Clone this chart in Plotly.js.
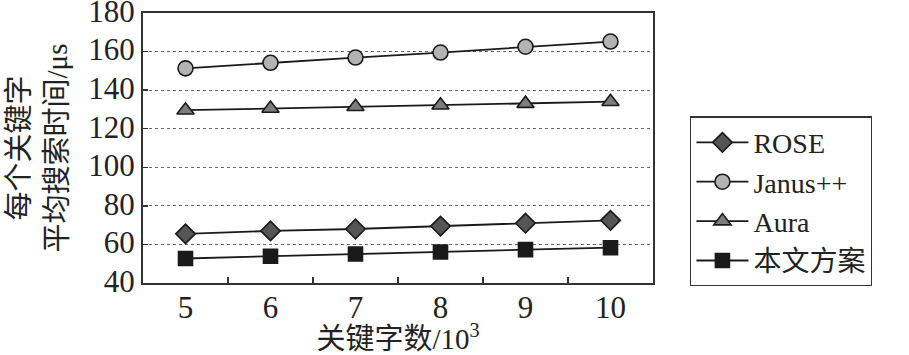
<!DOCTYPE html>
<html><head><meta charset="utf-8">
<script src="https://cdn.plot.ly/plotly-3.0.1.min.js"></script>
<style>html,body{margin:0;padding:0;background:#fff}#c{width:909px;height:355px}</style>
</head><body><div id="c"></div>
<script>
const categories = ['5','6','7','8','9','10'];
const rose = [65.5, 67, 68, 69.5, 71, 72.5];
const janus = [151.3, 154.2, 156.9, 159.5, 162.5, 165.2];
const aura = [129.6, 130.5, 131.4, 132.2, 133, 134];
const ours = [52.7, 53.9, 55, 56.1, 57.3, 58.3];
const names = ['ROSE', 'Janus++', 'Aura', '本文方案'];
const yTicks = [40, 60, 80, 100, 120, 140, 160, 180];

const FONT = '"Liberation Serif", "Times New Roman", "Noto Sans CJK SC", serif';
const lineStyle = {color: '#1a1a1a', width: 1.8};
function tr(name, y, symbol, fill, size) {
  return {x: categories, y: y, name: name, type: 'scatter', mode: 'lines+markers',
    line: lineStyle,
    marker: {symbol: symbol, size: size, color: fill, line: {color: '#1a1a1a', width: 1.6}}};
}
const data = [
  tr(names[0], rose, 'diamond', '#555555', 15),
  tr(names[1], janus, 'circle', '#b3b3b3', 15),
  tr(names[2], aura, 'triangle-up', '#7d7d7d', 15),
  tr(names[3], ours, 'square', '#1a1a1a', 14)
];
const layout = {
  width: 909, height: 355,
  margin: {l: 143, r: 256, t: 13, b: 72},
  paper_bgcolor: '#fff', plot_bgcolor: '#fff',
  font: {family: FONT, size: 31, color: '#222'},
  showlegend: true,
  legend: {x: 1.073, xanchor: 'left', y: 0.617, yanchor: 'top',
    bordercolor: '#333', borderwidth: 1.2, bgcolor: '#fff',
    font: {family: FONT, size: 28, color: '#222'}, tracegroupgap: 0,
    itemwidth: 52},
  xaxis: {type: 'category', range: [-0.5, 5.5], tickson: 'boundaries',
    ticks: 'inside', ticklen: 6, tickwidth: 1.5, tickcolor: '#333',
    showline: true, linecolor: '#333', linewidth: 2, mirror: true,
    showgrid: false, zeroline: false, ticklabelstandoff: -4,
    tickfont: {family: FONT, size: 31, color: '#222'},
    title: {text: '关键字数/10<sup>3</sup>', standoff: 0, font: {family: FONT, size: 29, color: '#222'}}},
  yaxis: {range: [40, 180], tickvals: yTicks, ticktext: yTicks.map(String),
    ticklabeloverflow: 'allow', ticklabelshift: -2,
    ticks: 'inside', ticklen: 5, tickwidth: 1.5, tickcolor: '#333',
    showline: true, linecolor: '#333', linewidth: 2, mirror: true,
    showgrid: true, gridcolor: '#666', gridwidth: 1, griddash: 'dot',
    zeroline: false,
    tickfont: {family: FONT, size: 31, color: '#222'},
    title: {text: '每个关键字<br>平均搜索时间/μs', standoff: 12, font: {family: FONT, size: 29, color: '#222'}}}
};
Plotly.newPlot('c', data, layout, {displayModeBar: false, staticPlot: true});
</script></body></html>
